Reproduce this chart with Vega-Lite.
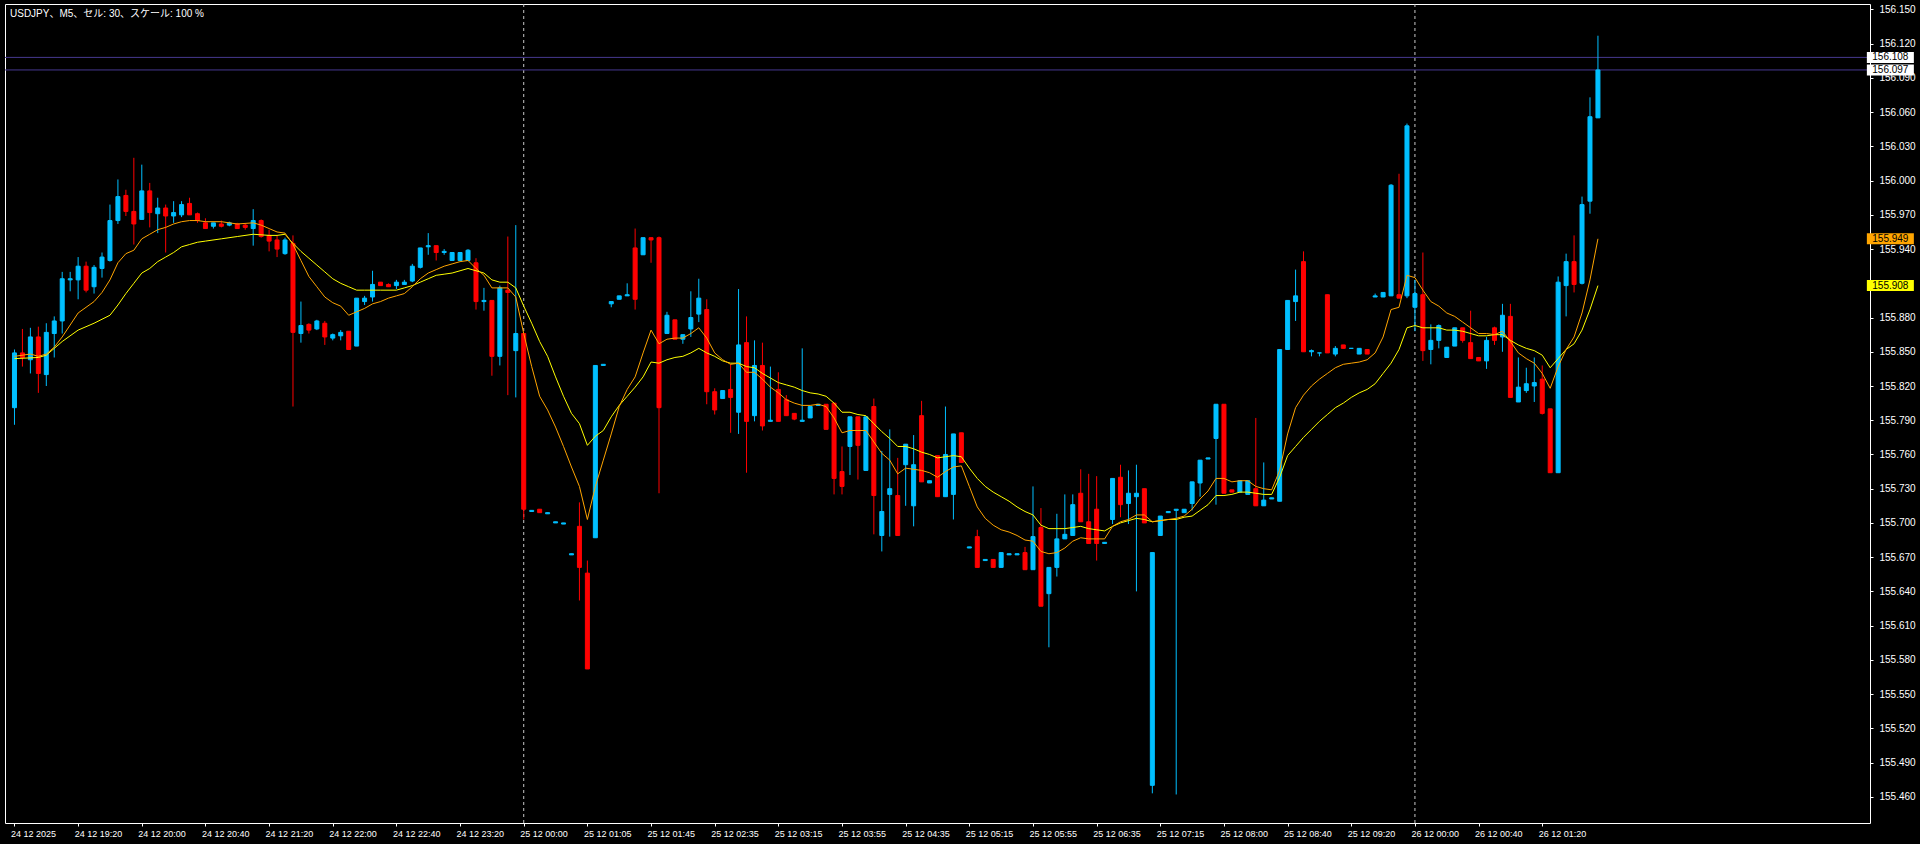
{
"$schema": "https://vega.github.io/schema/vega-lite/v6.json",
"width": 1865, "height": 819,
"autosize": {"type": "none"},
"padding": {"left": 5, "top": 4, "right": 50, "bottom": 21},
"background": "#000000",
"config": {"view": {"stroke": "#ffffff", "strokeWidth": 1}, "axis": {"grid": false, "domain": false}},
"title": {"text": "USDJPY、M5、セル: 30、スケール: 100 %", "anchor": "start", "frame": "group", "offset": -15, "dx": 5, "fontSize": 10, "fontWeight": "normal", "color": "#ffffff", "font": "Liberation Sans, Noto Sans CJK JP"},
"resolve": {"axis": {"x": "independent", "y": "independent"}},
"datasets": {
"sep": [{"i": 64}, {"i": 176}],
"px": [{"p": 156.108}, {"p": 156.097}],
"tag": [{"p": 156.108, "t": "156.108", "k": "ask"}, {"p": 156.097, "t": "156.097", "k": "bid"}, {"p": 155.949, "t": "155.949", "k": "fast"}, {"p": 155.908, "t": "155.908", "k": "slow"}],
"k": [
{"i":0,"o":155.801,"h":155.852,"l":155.786,"c":155.849,"f":155.846,"s":155.844},
{"i":1,"o":155.849,"h":155.870,"l":155.837,"c":155.845},
{"i":2,"o":155.843,"h":155.871,"l":155.831,"c":155.863,"f":155.848},
{"i":3,"o":155.863,"h":155.872,"l":155.814,"c":155.831,"f":155.846,"s":155.845},
{"i":4,"o":155.830,"h":155.875,"l":155.820,"c":155.867,"f":155.848,"s":155.847},
{"i":5,"o":155.866,"h":155.881,"l":155.845,"c":155.877,"f":155.854,"s":155.853},
{"i":6,"o":155.877,"h":155.920,"l":155.866,"c":155.914,"f":155.863,"s":155.859},
{"i":7,"o":155.913,"h":155.920,"l":155.903,"c":155.914},
{"i":8,"o":155.913,"h":155.933,"l":155.896,"c":155.925,"f":155.884,"s":155.869},
{"i":9,"o":155.925,"h":155.929,"l":155.902,"c":155.904},
{"i":10,"o":155.907,"h":155.926,"l":155.901,"c":155.924,"f":155.894,"s":155.875},
{"i":11,"o":155.923,"h":155.937,"l":155.915,"c":155.933,"f":155.902},
{"i":12,"o":155.930,"h":155.979,"l":155.929,"c":155.965,"f":155.913,"s":155.882},
{"i":13,"o":155.965,"h":156.001,"l":155.962,"c":155.986,"f":155.928,"s":155.891},
{"i":14,"o":155.987,"h":155.992,"l":155.969,"c":155.973,"f":155.936,"s":155.901},
{"i":15,"o":155.973,"h":156.020,"l":155.944,"c":155.962,"f":155.939,"s":155.910},
{"i":16,"o":155.966,"h":156.014,"l":155.966,"c":155.991,"f":155.949,"s":155.919},
{"i":17,"o":155.991,"h":155.998,"l":155.959,"c":155.972,"f":155.953,"s":155.923},
{"i":18,"o":155.971,"h":155.985,"l":155.954,"c":155.976,"f":155.957,"s":155.929},
{"i":19,"o":155.976,"h":155.979,"l":155.937,"c":155.969,"f":155.959,"s":155.933},
{"i":20,"o":155.969,"h":155.982,"l":155.963,"c":155.972,"f":155.962,"s":155.937},
{"i":21,"o":155.970,"h":155.982,"l":155.968,"c":155.979,"f":155.964,"s":155.942},
{"i":22,"o":155.980,"h":155.985,"l":155.970,"c":155.970,"f":155.965,"s":155.944},
{"i":23,"o":155.971,"h":155.972,"l":155.963,"c":155.965,"f":155.965,"s":155.946},
{"i":24,"o":155.963,"h":155.967,"l":155.958,"c":155.958,"f":155.964,"s":155.947},
{"i":25,"o":155.960,"h":155.963,"l":155.958,"c":155.963},
{"i":26,"o":155.962,"h":155.965,"l":155.959,"c":155.960,"f":155.964,"s":155.949},
{"i":27,"o":155.961,"h":155.964,"l":155.960,"c":155.963},
{"i":28,"o":155.962,"h":155.963,"l":155.958,"c":155.958,"f":155.962,"s":155.951},
{"i":29,"o":155.961,"h":155.962,"l":155.957,"c":155.959},
{"i":30,"o":155.958,"h":155.975,"l":155.943,"c":155.965,"f":155.963,"s":155.953},
{"i":31,"o":155.965,"h":155.966,"l":155.950,"c":155.951,"f":155.961},
{"i":32,"o":155.952,"h":155.957,"l":155.938,"c":155.947,"f":155.958,"s":155.952},
{"i":33,"o":155.948,"h":155.952,"l":155.933,"c":155.940,"f":155.955,"s":155.952},
{"i":34,"o":155.936,"h":155.950,"l":155.935,"c":155.948,"f":155.954,"s":155.953},
{"i":35,"o":155.945,"h":155.952,"l":155.802,"c":155.867,"f":155.944,"s":155.945},
{"i":36,"o":155.866,"h":155.894,"l":155.858,"c":155.873,"f":155.930,"s":155.938},
{"i":37,"o":155.874,"h":155.875,"l":155.866,"c":155.869,"f":155.916,"s":155.932},
{"i":38,"o":155.870,"h":155.878,"l":155.869,"c":155.877,"f":155.907,"s":155.926},
{"i":39,"o":155.875,"h":155.877,"l":155.856,"c":155.863,"f":155.898,"s":155.920},
{"i":40,"o":155.862,"h":155.866,"l":155.860,"c":155.865,"f":155.893,"s":155.914},
{"i":41,"o":155.864,"h":155.869,"l":155.860,"c":155.867,"f":155.890,"s":155.910},
{"i":42,"o":155.868,"h":155.868,"l":155.852,"c":155.852,"f":155.882,"s":155.907},
{"i":43,"o":155.855,"h":155.897,"l":155.855,"c":155.897,"f":155.885,"s":155.904},
{"i":44,"o":155.894,"h":155.899,"l":155.891,"c":155.897,"f":155.888,"s":155.904},
{"i":45,"o":155.898,"h":155.921,"l":155.894,"c":155.909,"f":155.892},
{"i":46,"o":155.911,"h":155.911,"l":155.908,"c":155.908,"f":155.894,"s":155.904},
{"i":47,"o":155.909,"h":155.910,"l":155.907,"c":155.907,"f":155.897},
{"i":48,"o":155.908,"h":155.913,"l":155.905,"c":155.911,"f":155.899,"s":155.904},
{"i":49,"o":155.909,"h":155.913,"l":155.909,"c":155.911,"f":155.901,"s":155.906},
{"i":50,"o":155.912,"h":155.927,"l":155.911,"c":155.925,"f":155.907,"s":155.908},
{"i":51,"o":155.924,"h":155.941,"l":155.923,"c":155.941,"f":155.914,"s":155.911},
{"i":52,"o":155.942,"h":155.954,"l":155.935,"c":155.943,"f":155.919,"s":155.914},
{"i":53,"o":155.943,"h":155.943,"l":155.930,"c":155.937,"f":155.922,"s":155.917},
{"i":54,"o":155.937,"h":155.940,"l":155.935,"c":155.938,"f":155.925,"s":155.918},
{"i":55,"o":155.930,"h":155.937,"l":155.930,"c":155.937,"f":155.927,"s":155.919},
{"i":56,"o":155.930,"h":155.937,"l":155.930,"c":155.937,"f":155.929,"s":155.921},
{"i":57,"o":155.930,"h":155.940,"l":155.930,"c":155.939,"f":155.930,"s":155.923},
{"i":58,"o":155.928,"h":155.932,"l":155.887,"c":155.894,"f":155.923,"s":155.921},
{"i":59,"o":155.894,"h":155.906,"l":155.886,"c":155.895,"f":155.917,"s":155.919},
{"i":60,"o":155.895,"h":155.895,"l":155.829,"c":155.846,"f":155.906,"s":155.913},
{"i":61,"o":155.846,"h":155.908,"l":155.838,"c":155.906,"f":155.906,"s":155.911},
{"i":62,"o":155.904,"h":155.951,"l":155.812,"c":155.902,"f":155.906,"s":155.911},
{"i":63,"o":155.851,"h":155.961,"l":155.810,"c":155.866,"f":155.898,"s":155.906},
{"i":64,"o":155.866,"h":155.866,"l":155.703,"c":155.712,"f":155.866,"s":155.890},
{"i":65,"o":155.710,"h":155.711,"l":155.710,"c":155.711,"f":155.837,"s":155.875},
{"i":66,"o":155.712,"h":155.712,"l":155.709,"c":155.709,"f":155.811,"s":155.859},
{"i":67,"o":155.708,"h":155.709,"l":155.708,"c":155.709,"f":155.799,"s":155.846},
{"i":68,"o":155.700,"h":155.701,"l":155.700,"c":155.701,"f":155.784,"s":155.828},
{"i":69,"o":155.699,"h":155.700,"l":155.699,"c":155.700,"f":155.767,"s":155.811},
{"i":70,"o":155.672,"h":155.673,"l":155.672,"c":155.673,"f":155.749,"s":155.796},
{"i":71,"o":155.697,"h":155.718,"l":155.632,"c":155.661,"f":155.732,"s":155.787},
{"i":72,"o":155.656,"h":155.667,"l":155.572,"c":155.572,"f":155.703,"s":155.768},
{"i":73,"o":155.687,"h":155.838,"l":155.687,"c":155.838,"f":155.732,"s":155.776},
{"i":74,"o":155.838,"h":155.839,"l":155.838,"c":155.839,"f":155.755,"s":155.781},
{"i":75,"o":155.892,"h":155.894,"l":155.889,"c":155.894,"f":155.778,"s":155.793},
{"i":76,"o":155.896,"h":155.899,"l":155.896,"c":155.899,"f":155.802,"s":155.803},
{"i":77,"o":155.899,"h":155.910,"l":155.899,"c":155.900,"f":155.817,"s":155.811},
{"i":78,"o":155.941,"h":155.958,"l":155.887,"c":155.896,"f":155.828,"s":155.819},
{"i":79,"o":155.935,"h":155.950,"l":155.935,"c":155.950,"f":155.849,"s":155.828},
{"i":80,"o":155.950,"h":155.950,"l":155.928,"c":155.948,"f":155.869,"s":155.841},
{"i":81,"o":155.950,"h":155.951,"l":155.726,"c":155.801,"f":155.857,"s":155.840},
{"i":82,"o":155.866,"h":155.885,"l":155.866,"c":155.882,"f":155.861,"s":155.843},
{"i":83,"o":155.878,"h":155.878,"l":155.861,"c":155.861,"f":155.862,"s":155.845},
{"i":84,"o":155.861,"h":155.865,"l":155.857,"c":155.865,"f":155.862,"s":155.846},
{"i":85,"o":155.870,"h":155.903,"l":155.863,"c":155.880,"f":155.866,"s":155.849},
{"i":86,"o":155.883,"h":155.914,"l":155.876,"c":155.897,"f":155.871,"s":155.853},
{"i":87,"o":155.887,"h":155.896,"l":155.804,"c":155.815,"f":155.862,"s":155.849},
{"i":88,"o":155.815,"h":155.818,"l":155.795,"c":155.799,"f":155.849,"s":155.846},
{"i":89,"o":155.809,"h":155.816,"l":155.809,"c":155.816,"f":155.843,"s":155.842},
{"i":90,"o":155.817,"h":155.839,"l":155.779,"c":155.810,"f":155.839,"s":155.840},
{"i":91,"o":155.797,"h":155.905,"l":155.778,"c":155.856,"f":155.840,"s":155.840},
{"i":92,"o":155.858,"h":155.881,"l":155.744,"c":155.789,"f":155.832,"s":155.837},
{"i":93,"o":155.794,"h":155.860,"l":155.789,"c":155.838,"f":155.832,"s":155.836},
{"i":94,"o":155.838,"h":155.858,"l":155.781,"c":155.785,"f":155.826,"s":155.831},
{"i":95,"o":155.789,"h":155.837,"l":155.789,"c":155.790,"f":155.819,"s":155.827},
{"i":96,"o":155.817,"h":155.832,"l":155.789,"c":155.789,"f":155.814,"s":155.823},
{"i":97,"o":155.808,"h":155.812,"l":155.794,"c":155.794,"f":155.808,"s":155.821},
{"i":98,"o":155.796,"h":155.796,"l":155.790,"c":155.791,"f":155.805,"s":155.819},
{"i":99,"o":155.789,"h":155.853,"l":155.789,"c":155.790,"f":155.803,"s":155.816},
{"i":100,"o":155.792,"h":155.802,"l":155.792,"c":155.802,"f":155.803,"s":155.814},
{"i":101,"o":155.803,"h":155.804,"l":155.803,"c":155.804,"f":155.804,"s":155.813},
{"i":102,"o":155.804,"h":155.804,"l":155.782,"c":155.782,"f":155.802,"s":155.811},
{"i":103,"o":155.805,"h":155.805,"l":155.725,"c":155.739,"f":155.792,"s":155.805},
{"i":104,"o":155.745,"h":155.767,"l":155.725,"c":155.732,"f":155.779,"s":155.797},
{"i":105,"o":155.767,"h":155.793,"l":155.742,"c":155.793,"f":155.781,"s":155.797},
{"i":106,"o":155.793,"h":155.793,"l":155.738,"c":155.768,"f":155.781,"s":155.795},
{"i":107,"o":155.746,"h":155.793,"l":155.746,"c":155.793,"f":155.781,"s":155.794},
{"i":108,"o":155.802,"h":155.809,"l":155.690,"c":155.724,"f":155.771,"s":155.787},
{"i":109,"o":155.689,"h":155.763,"l":155.675,"c":155.710,"f":155.761,"s":155.780},
{"i":110,"o":155.725,"h":155.782,"l":155.688,"c":155.730,"f":155.755,"s":155.774},
{"i":111,"o":155.724,"h":155.757,"l":155.689,"c":155.689,"f":155.743,"s":155.767},
{"i":112,"o":155.751,"h":155.769,"l":155.715,"c":155.769,"f":155.748,"s":155.767},
{"i":113,"o":155.715,"h":155.777,"l":155.697,"c":155.751,"f":155.747,"s":155.765},
{"i":114,"o":155.794,"h":155.807,"l":155.736,"c":155.736,"f":155.746,"s":155.762},
{"i":115,"o":155.735,"h":155.737,"l":155.735,"c":155.737,"f":155.744,"s":155.760},
{"i":116,"o":155.759,"h":155.759,"l":155.723,"c":155.723,"f":155.740,"s":155.757},
{"i":117,"o":155.723,"h":155.802,"l":155.723,"c":155.760,"f":155.745,"s":155.758},
{"i":118,"o":155.725,"h":155.778,"l":155.703,"c":155.778,"f":155.749,"s":155.759},
{"i":119,"o":155.779,"h":155.779,"l":155.753,"c":155.753,"f":155.750,"s":155.758},
{"i":120,"o":155.678,"h":155.679,"l":155.678,"c":155.679,"f":155.732,"s":155.748},
{"i":121,"o":155.688,"h":155.694,"l":155.661,"c":155.661,"f":155.714,"s":155.739},
{"i":122,"o":155.667,"h":155.668,"l":155.667,"c":155.668,"f":155.704,"s":155.732},
{"i":123,"o":155.668,"h":155.668,"l":155.661,"c":155.661,"f":155.698,"s":155.727},
{"i":124,"o":155.661,"h":155.674,"l":155.661,"c":155.674,"f":155.694,"s":155.723},
{"i":125,"o":155.672,"h":155.673,"l":155.672,"c":155.673,"f":155.692,"s":155.719},
{"i":126,"o":155.672,"h":155.673,"l":155.672,"c":155.673,"f":155.689,"s":155.714},
{"i":127,"o":155.674,"h":155.679,"l":155.659,"c":155.659,"f":155.685,"s":155.710},
{"i":128,"o":155.659,"h":155.732,"l":155.659,"c":155.688,"f":155.684,"s":155.707},
{"i":129,"o":155.696,"h":155.713,"l":155.627,"c":155.627,"f":155.675,"s":155.698},
{"i":130,"o":155.638,"h":155.661,"l":155.591,"c":155.661,"f":155.673,"s":155.695},
{"i":131,"o":155.661,"h":155.708,"l":155.653,"c":155.686,"f":155.674,"s":155.695},
{"i":132,"o":155.686,"h":155.725,"l":155.686,"c":155.690,"f":155.678,"s":155.695},
{"i":133,"o":155.689,"h":155.725,"l":155.689,"c":155.716,"f":155.684,"s":155.696},
{"i":134,"o":155.726,"h":155.747,"l":155.701,"c":155.701,"f":155.687,"s":155.697},
{"i":135,"o":155.701,"h":155.743,"l":155.682,"c":155.682,"f":155.686,"s":155.695},
{"i":136,"o":155.712,"h":155.741,"l":155.667,"c":155.682,"f":155.686,"s":155.694},
{"i":137,"o":155.682,"h":155.683,"l":155.682,"c":155.683,"f":155.686,"s":155.693},
{"i":138,"o":155.703,"h":155.739,"l":155.699,"c":155.739,"f":155.697,"s":155.697},
{"i":139,"o":155.740,"h":155.751,"l":155.705,"c":155.716,"f":155.701,"s":155.700},
{"i":140,"o":155.717,"h":155.746,"l":155.699,"c":155.726,"f":155.703,"s":155.702},
{"i":141,"o":155.723,"h":155.751,"l":155.640,"c":155.726,"f":155.707,"s":155.704},
{"i":142,"o":155.730,"h":155.730,"l":155.700,"c":155.700,"f":155.707,"s":155.703},
{"i":143,"o":155.470,"h":155.674,"l":155.463,"c":155.674,"f":155.701,"s":155.701},
{"i":144,"o":155.689,"h":155.706,"l":155.689,"c":155.706,"f":155.702,"s":155.702},
{"i":145,"o":155.709,"h":155.710,"l":155.709,"c":155.710,"f":155.703,"s":155.703},
{"i":146,"o":155.711,"h":155.712,"l":155.462,"c":155.712,"f":155.704,"s":155.703},
{"i":147,"o":155.709,"h":155.712,"l":155.709,"c":155.712,"f":155.706,"s":155.705},
{"i":148,"o":155.717,"h":155.736,"l":155.711,"c":155.736,"f":155.712,"s":155.706},
{"i":149,"o":155.735,"h":155.755,"l":155.723,"c":155.755,"f":155.721,"s":155.711},
{"i":150,"o":155.756,"h":155.757,"l":155.756,"c":155.757,"f":155.728,"s":155.716},
{"i":151,"o":155.774,"h":155.804,"l":155.716,"c":155.804,"f":155.739,"s":155.724},
{"i":152,"o":155.804,"h":155.804,"l":155.726,"c":155.726,"f":155.739,"s":155.724},
{"i":153,"o":155.729,"h":155.729,"l":155.727,"c":155.727,"f":155.736,"s":155.725},
{"i":154,"o":155.727,"h":155.737,"l":155.727,"c":155.737,"f":155.737,"s":155.727},
{"i":155,"o":155.725,"h":155.737,"l":155.725,"c":155.737,"f":155.737,"s":155.727},
{"i":156,"o":155.730,"h":155.792,"l":155.715,"c":155.715,"f":155.732,"s":155.726},
{"i":157,"o":155.715,"h":155.753,"l":155.715,"c":155.720,"f":155.730,"s":155.725},
{"i":158,"o":155.721,"h":155.722,"l":155.721,"c":155.722,"f":155.729,"s":155.725},
{"i":159,"o":155.719,"h":155.852,"l":155.719,"c":155.852,"f":155.746,"s":155.740},
{"i":160,"o":155.852,"h":155.895,"l":155.852,"c":155.895,"f":155.778,"s":155.759},
{"i":161,"o":155.894,"h":155.922,"l":155.877,"c":155.899,"f":155.801,"s":155.767},
{"i":162,"o":155.929,"h":155.938,"l":155.850,"c":155.850,"f":155.812,"s":155.775},
{"i":163,"o":155.850,"h":155.852,"l":155.846,"c":155.851,"f":155.820,"s":155.782},
{"i":164,"o":155.849,"h":155.849,"l":155.846,"c":155.849,"f":155.826,"s":155.789},
{"i":165,"o":155.900,"h":155.900,"l":155.849,"c":155.849,"f":155.831,"s":155.795},
{"i":166,"o":155.848,"h":155.855,"l":155.846,"c":155.853,"f":155.836,"s":155.801},
{"i":167,"o":155.856,"h":155.856,"l":155.853,"c":155.853,"f":155.839,"s":155.805},
{"i":168,"o":155.853,"h":155.853,"l":155.853,"c":155.853,"f":155.840,"s":155.810},
{"i":169,"o":155.848,"h":155.853,"l":155.848,"c":155.853,"f":155.841,"s":155.814},
{"i":170,"o":155.852,"h":155.852,"l":155.848,"c":155.848,"f":155.843,"s":155.817},
{"i":171,"o":155.898,"h":155.901,"l":155.898,"c":155.899,"f":155.849,"s":155.822},
{"i":172,"o":155.898,"h":155.902,"l":155.898,"c":155.902,"f":155.863,"s":155.831},
{"i":173,"o":155.899,"h":155.997,"l":155.899,"c":155.996,"f":155.887,"s":155.840},
{"i":174,"o":155.900,"h":156.006,"l":155.897,"c":155.897,"f":155.889,"s":155.852},
{"i":175,"o":155.899,"h":156.050,"l":155.897,"c":156.048,"f":155.917,"s":155.871},
{"i":176,"o":155.889,"h":155.913,"l":155.868,"c":155.901,"f":155.915,"s":155.873},
{"i":177,"o":155.900,"h":155.937,"l":155.842,"c":155.851,"f":155.904,"s":155.871},
{"i":178,"o":155.852,"h":155.874,"l":155.839,"c":155.860,"f":155.894,"s":155.871},
{"i":179,"o":155.860,"h":155.874,"l":155.853,"c":155.873,"f":155.890,"s":155.871},
{"i":180,"o":155.845,"h":155.854,"l":155.845,"c":155.854,"f":155.884,"s":155.869},
{"i":181,"o":155.855,"h":155.871,"l":155.855,"c":155.871,"f":155.881,"s":155.869},
{"i":182,"o":155.871,"h":155.871,"l":155.858,"c":155.860,"f":155.876,"s":155.868},
{"i":183,"o":155.858,"h":155.886,"l":155.844,"c":155.844,"f":155.871,"s":155.866},
{"i":184,"o":155.845,"h":155.845,"l":155.842,"c":155.842,"f":155.866,"s":155.864},
{"i":185,"o":155.842,"h":155.863,"l":155.835,"c":155.860,"f":155.866,"s":155.864},
{"i":186,"o":155.871,"h":155.872,"l":155.856,"c":155.860,"f":155.865,"s":155.865},
{"i":187,"o":155.863,"h":155.892,"l":155.850,"c":155.882,"f":155.868,"s":155.865},
{"i":188,"o":155.881,"h":155.892,"l":155.810,"c":155.810,"f":155.859,"s":155.860},
{"i":189,"o":155.806,"h":155.845,"l":155.806,"c":155.819,"f":155.849,"s":155.856},
{"i":190,"o":155.816,"h":155.836,"l":155.814,"c":155.822,"f":155.844,"s":155.853},
{"i":191,"o":155.820,"h":155.845,"l":155.806,"c":155.823,"f":155.840,"s":155.851},
{"i":192,"o":155.826,"h":155.838,"l":155.795,"c":155.796,"f":155.831,"s":155.847},
{"i":193,"o":155.800,"h":155.800,"l":155.744,"c":155.744,"f":155.818,"s":155.836},
{"i":194,"o":155.744,"h":155.916,"l":155.744,"c":155.911,"f":155.837,"s":155.844},
{"i":195,"o":155.908,"h":155.936,"l":155.881,"c":155.929,"f":155.852,"s":155.852},
{"i":196,"o":155.929,"h":155.952,"l":155.902,"c":155.909,"f":155.863,"s":155.857},
{"i":197,"o":155.910,"h":155.986,"l":155.909,"c":155.979,"f":155.884,"s":155.869},
{"i":198,"o":155.982,"h":156.073,"l":155.971,"c":156.056,"f":155.913,"s":155.887},
{"i":199,"o":156.055,"h":156.127,"l":156.055,"c":156.097,"f":155.949,"s":155.908}
]
},
"layer": [
{"data": {"name": "sep"}, "mark": {"type": "rule", "strokeDash": [3, 3], "color": "#c8c8c8", "strokeWidth": 1},
 "encoding": {"x": {"field": "i", "type": "quantitative", "scale": {"domain": [-0.5625, 232.5625], "nice": false, "zero": false}, "axis": null}}},
{"data": {"name": "px"}, "mark": {"type": "rule", "color": "#46388f", "strokeWidth": 1},
 "encoding": {"y": {"field": "p", "type": "quantitative", "scale": {"domain": [155.437, 156.1548], "nice": false, "zero": false}, "axis": null}}},
{"data": {"name": "k"}, "mark": {"type": "rule", "strokeWidth": 1},
 "encoding": {
  "x": {"field": "i", "type": "quantitative", "scale": {"domain": [-0.5625, 232.5625], "nice": false, "zero": false},
    "axis": {"orient": "bottom", "title": null, "values": [0,8,16,24,32,40,48,56,64,72,80,88,96,104,112,120,128,136,144,152,160,168,176,184,192],
     "labelExpr": "['24 12 2025','24 12 19:20','24 12 20:00','24 12 20:40','24 12 21:20','24 12 22:00','24 12 22:40','24 12 23:20','25 12 00:00','25 12 01:05','25 12 01:45','25 12 02:35','25 12 03:15','25 12 03:55','25 12 04:35','25 12 05:15','25 12 05:55','25 12 06:35','25 12 07:15','25 12 08:00','25 12 08:40','25 12 09:20','26 12 00:00','26 12 00:40','26 12 01:20'][round(datum.value/8)]",
     "labelAlign": "left", "labelBaseline": "top", "labelPadding": 3, "labelOffset": -4, "tickSize": 3, "tickColor": "#ffffff", "labelColor": "#ffffff", "labelFont": "Liberation Sans", "labelFontSize": 9, "labelOverlap": false, "labelBound": false, "labelFlush": false}},
  "y": {"field": "l", "type": "quantitative", "scale": {"domain": [155.437, 156.1548], "nice": false, "zero": false},
    "axis": {"orient": "right", "title": null, "values": [155.46,155.49,155.52,155.55,155.58,155.61,155.64,155.67,155.70,155.73,155.76,155.79,155.82,155.85,155.88,155.94,155.97,156.00,156.03,156.06,156.09,156.12,156.15],
     "format": ".3f", "labelAlign": "left", "labelBaseline": "middle", "labelPadding": 6, "tickSize": 3, "tickColor": "#ffffff", "labelColor": "#ffffff", "labelFont": "Liberation Sans", "labelFontSize": 10, "labelOverlap": false, "labelBound": false, "labelFlush": false}},
  "y2": {"field": "h"},
  "color": {"condition": {"test": "datum.c >= datum.o", "value": "#00bfff"}, "value": "#ff0000"}
 }},
{"data": {"name": "k"}, "mark": {"type": "bar", "size": 4, "strokeWidth": 1},
 "encoding": {
  "x": {"field": "i", "type": "quantitative", "scale": {"domain": [-0.5625, 232.5625], "nice": false, "zero": false}, "axis": null},
  "y": {"field": "o", "type": "quantitative", "scale": {"domain": [155.437, 156.1548], "nice": false, "zero": false}, "axis": null},
  "y2": {"field": "c"},
  "fill": {"condition": {"test": "datum.c >= datum.o", "value": "#00bfff"}, "value": "#ff0000"},
  "stroke": {"condition": {"test": "datum.c >= datum.o", "value": "#00bfff"}, "value": "#ff0000"}
 }},
{"data": {"name": "k"}, "transform": [{"filter": "isValid(datum.s)"}], "mark": {"type": "line", "color": "#ffff00", "strokeWidth": 1},
 "encoding": {
  "x": {"field": "i", "type": "quantitative", "scale": {"domain": [-0.5625, 232.5625], "nice": false, "zero": false}, "axis": null},
  "y": {"field": "s", "type": "quantitative", "scale": {"domain": [155.437, 156.1548], "nice": false, "zero": false}, "axis": null}
 }},
{"data": {"name": "k"}, "transform": [{"filter": "isValid(datum.f)"}], "mark": {"type": "line", "color": "#ffa500", "strokeWidth": 1},
 "encoding": {
  "x": {"field": "i", "type": "quantitative", "scale": {"domain": [-0.5625, 232.5625], "nice": false, "zero": false}, "axis": null},
  "y": {"field": "f", "type": "quantitative", "scale": {"domain": [155.437, 156.1548], "nice": false, "zero": false}, "axis": null}
 }},
{"data": {"name": "tag"}, "mark": {"type": "tick", "orient": "horizontal", "size": 47, "thickness": 11, "opacity": 1},
 "encoding": {
  "x": {"datum": 235.75, "type": "quantitative", "scale": {"domain": [-0.5625, 232.5625], "nice": false, "zero": false}, "axis": null},
  "y": {"field": "p", "type": "quantitative", "scale": {"domain": [155.437, 156.1548], "nice": false, "zero": false}, "axis": null},
  "color": {"field": "k", "type": "nominal", "scale": {"domain": ["ask", "bid", "fast", "slow"], "range": ["#ffffff", "#ffffff", "#ffa500", "#ffff00"]}, "legend": null}
 }},
{"data": {"name": "tag"}, "mark": {"type": "text", "align": "center", "baseline": "middle", "font": "Liberation Sans", "fontSize": 10, "color": "#000000"},
 "encoding": {
  "x": {"datum": 235.75, "type": "quantitative", "scale": {"domain": [-0.5625, 232.5625], "nice": false, "zero": false}, "axis": null},
  "y": {"field": "p", "type": "quantitative", "scale": {"domain": [155.437, 156.1548], "nice": false, "zero": false}, "axis": null},
  "text": {"field": "t"}
 }}
]
}
